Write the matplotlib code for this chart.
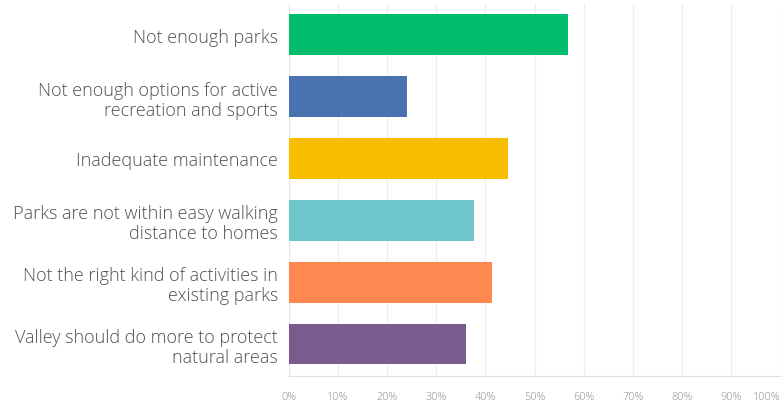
import matplotlib
matplotlib.use("Agg")
import matplotlib.pyplot as plt
import numpy as np

categories = [
    "Not enough parks",
    "Not enough options for active\nrecreation and sports",
    "Inadequate maintenance",
    "Parks are not within easy walking\ndistance to homes",
    "Not the right kind of activities in\nexisting parks",
    "Valley should do more to protect\nnatural areas",
]
values = [56.7, 24.0, 44.5, 37.6, 41.3, 36.0]
colors = ["#03bd6e", "#4a72b0", "#f7be00", "#6ec6cc", "#ff8750", "#7a5b8e"]
tick_values = list(range(0, 101, 10))
tick_labels = [f"{v}%" for v in tick_values]

plt.rcParams["font.family"] = ["Open Sans", "DejaVu Sans"]

fig = plt.figure(figsize=(7.81, 4.06), dpi=100)
ax = fig.add_axes([0.370, 0.071, 0.629, 0.917])

y = np.arange(len(categories))
ax.barh(y, values, height=0.66, color=colors, zorder=3)

ax.set_xlim(0, 100)
ax.set_ylim(len(categories) - 0.48, -0.5)

ax.set_yticks(y)
ax.set_yticklabels(categories, fontsize=13, color="#505050", fontweight="light")
for lbl in ax.get_yticklabels():
    lbl.set_linespacing(1.15)
ax.tick_params(axis="y", length=0, pad=8)

ax.set_xticks(tick_values)
ax.set_xticklabels(tick_labels, fontsize=7.8, color="#8a8a8a", fontweight="light")
ax.get_xticklabels()[-1].set_horizontalalignment("right")
ax.tick_params(axis="x", length=0, pad=11)

ax.grid(axis="x", color="#eeeeee", linewidth=0.9, zorder=0)
ax.set_axisbelow(True)

for side in ("top", "right"):
    ax.spines[side].set_visible(False)
ax.spines["bottom"].set_color("#dedede")
ax.spines["left"].set_color("#e6e6e6")

fig.savefig("out.png", dpi=100)
